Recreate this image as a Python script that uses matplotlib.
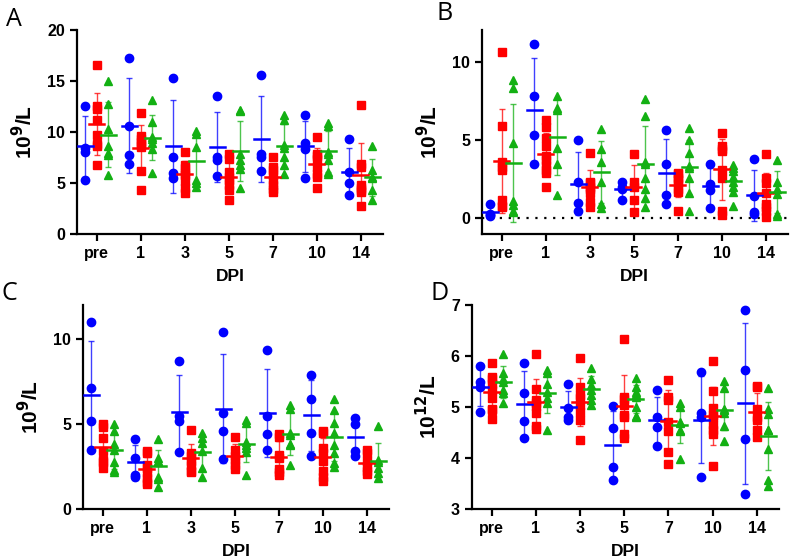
import numpy as np
import matplotlib
matplotlib.use("Agg")
import matplotlib.pyplot as plt

dpi_labels = ["pre", "1", "3", "5", "7", "10", "14"]

# ---- panel A (10^9/L) ----
a_blue = [[12.6, 8.4, 8.1, 5.3], [17.3, 10.6, 7.8, 6.9], [15.3, 7.6, 6.0, 5.5],
          [13.5, 7.6, 7.3, 5.7], [15.6, 7.9, 7.6, 6.2], [11.7, 8.9, 8.3, 5.5],
          [9.3, 6.1, 5.0, 3.8]]
a_red = [[16.6, 12.6, 12.3, 11.2, 9.7, 8.8, 8.6, 6.8],
         [11.9, 9.6, 9.3, 9.0, 8.7, 8.5, 6.2, 4.3],
         [8.1, 6.8, 6.5, 6.0, 5.8, 5.2, 4.5, 4.0],
         [7.9, 7.4, 6.1, 5.6, 5.3, 4.8, 4.3, 3.3],
         [7.6, 6.6, 6.3, 5.8, 5.3, 4.8, 4.4, 4.1],
         [9.5, 7.9, 7.7, 7.4, 6.6, 5.9, 5.6, 4.5],
         [12.7, 6.9, 6.6, 4.8, 4.5, 4.3, 4.1, 2.8]]
a_green = [[15.0, 12.8, 10.3, 8.0, 7.8, 5.8, 8.6],
           [13.2, 11.0, 9.5, 9.3, 8.9, 8.3, 6.0],
           [10.1, 9.8, 8.5, 5.3, 5.0, 4.6],
           [12.2, 12.1, 7.9, 7.3, 6.8, 6.4, 4.5],
           [11.7, 11.2, 8.7, 8.4, 7.6, 6.8, 5.9],
           [10.9, 10.6, 8.1, 7.9, 7.3, 6.1, 5.9],
           [8.6, 6.3, 5.6, 5.5, 4.3, 3.3]]

# ---- panel B (10^9/L) ----
b_blue = [[0.9, 0.3, 0.2, 0.15], [11.1, 7.8, 5.3, 3.5], [5.0, 2.35, 1.0, 0.5],
          [2.3, 2.0, 1.9, 1.2], [5.65, 3.5, 1.5, 0.95], [3.5, 2.2, 1.8, 0.65],
          [3.8, 1.45, 0.4, 0.25]]
b_red = [[10.6, 5.9, 3.6, 3.3, 3.1, 1.2, 0.8, 0.75],
         [6.3, 5.8, 5.1, 4.6, 4.0, 3.7, 3.4, 3.1, 2.9, 2.0],
         [4.2, 2.35, 2.25, 2.0, 1.9, 1.65, 1.07, 0.7],
         [4.1, 2.35, 2.0, 1.2, 0.4],
         [2.9, 2.8, 2.6, 2.45, 2.25, 1.9, 1.7, 0.5],
         [5.45, 4.6, 4.4, 4.3, 3.1, 2.55, 0.5, 0.2],
         [4.1, 2.55, 2.25, 1.65, 0.95, 0.7, 0.5, 0.1]]
b_green = [[8.8, 8.3, 4.8, 1.1, 0.85, 0.5, 0.4],
           [7.8, 7.05, 6.9, 4.5, 3.5, 1.5],
           [5.7, 4.4, 3.6, 2.35, 0.95, 0.65],
           [7.6, 6.55, 3.6, 3.5, 2.55, 1.9, 1.3, 0.75],
           [5.75, 5.0, 4.15, 3.35, 3.2, 2.55, 1.65, 0.5],
           [3.4, 3.2, 3.0, 2.65, 2.3, 2.0, 1.7, 0.8],
           [3.75, 2.35, 1.9, 1.55, 0.3, 0.15]]

# ---- panel C (10^9/L) ----
c_blue = [[11.0, 7.1, 5.2, 3.5], [4.1, 3.0, 2.0, 1.9], [8.7, 5.5, 5.2, 3.35],
          [10.45, 5.65, 4.6, 2.95], [9.35, 5.5, 4.4, 3.45], [7.9, 6.5, 4.5, 3.15],
          [5.35, 5.0, 3.4, 3.1]]
c_red = [[5.0, 4.85, 4.2, 3.4, 2.9, 2.75, 2.4],
         [3.4, 3.3, 2.6, 2.4, 2.1, 1.8, 1.6, 1.5],
         [4.65, 3.3, 3.15, 2.85, 2.6, 2.25, 2.2],
         [4.25, 3.5, 3.1, 2.9, 2.6, 2.35],
         [4.4, 4.25, 3.2, 3.0, 2.35, 2.2, 2.0],
         [4.6, 4.5, 3.6, 3.3, 2.8, 2.25, 1.9, 1.65],
         [3.5, 3.3, 2.8, 2.5, 2.25, 2.05]]
c_green = [[5.0, 4.6, 3.85, 3.45, 2.75, 2.2, 2.3],
           [4.1, 3.0, 2.8, 2.75, 1.9, 1.75, 1.3],
           [4.5, 4.2, 3.9, 3.4, 2.4, 1.9],
           [5.25, 5.05, 3.95, 3.75, 3.6, 3.35, 2.0],
           [6.15, 5.9, 4.5, 4.35, 3.85, 3.75, 2.6],
           [6.45, 5.85, 5.05, 4.45, 3.75, 3.3, 2.7, 2.5],
           [4.9, 2.9, 2.75, 2.4, 2.1, 1.8]]

# ---- panel D (10^12/L) ----
d_blue = [[5.8, 5.5, 5.39, 4.91], [5.87, 5.27, 4.73, 4.39], [5.46, 4.99, 4.81, 4.75],
          [5.03, 4.59, 3.83, 3.57], [5.33, 4.81, 4.61, 4.24], [5.69, 4.89, 4.81, 3.63],
          [6.9, 5.73, 4.37, 3.29]]
d_red = [[5.87, 5.6, 5.55, 5.46, 5.33, 5.17, 4.97, 4.94, 4.76],
         [6.04, 5.35, 5.14, 5.09, 5.02, 4.88, 4.63, 4.58],
         [5.97, 5.39, 5.24, 5.17, 5.04, 4.91, 4.75, 4.35],
         [6.33, 5.2, 5.15, 5.04, 4.84, 4.81, 4.48, 4.39],
         [5.54, 5.19, 5.14, 4.71, 4.53, 4.12, 3.88],
         [5.91, 5.31, 4.99, 4.84, 4.81, 4.65, 4.55, 4.48, 3.85],
         [5.41, 5.39, 4.97, 4.8, 4.75, 4.55, 4.42]]
d_green = [[6.05, 5.66, 5.56, 5.5, 5.33, 5.27, 5.09],
           [5.73, 5.66, 5.46, 5.3, 5.17, 5.08, 4.55],
           [5.76, 5.56, 5.43, 5.33, 5.24, 5.14, 5.04],
           [5.58, 5.4, 5.3, 5.25, 5.19, 5.0, 4.82, 4.8],
           [5.08, 5.0, 4.71, 4.68, 4.55, 4.54, 3.98],
           [5.52, 5.37, 4.97, 4.94, 4.89, 4.63, 4.34],
           [5.37, 4.97, 4.86, 4.55, 4.55, 4.17, 3.57, 3.46]]

BLUE = "#0000ff"
RED = "#ff0000"
GREEN = "#13b013"

plt.rcParams["font.family"] = ["Liberation Sans", "DejaVu Sans"]
fig = plt.figure(figsize=(7.9, 5.6), dpi=100)


def panel(rect, groups, ylim, yticks, ylabel, letter, letter_xy, zero_line=False):
    ax = fig.add_axes(rect)
    xs = np.arange(len(dpi_labels))
    for (vals, color, marker, off) in zip(groups, [BLUE, RED, GREEN], ["o", "s", "^"], [-0.26, 0.0, 0.26]):
        for i, v in enumerate(vals):
            v = np.array(v)
            x = xs[i] + off
            ax.plot(np.full(len(v), x), v, ls="none", marker=marker, ms=6.0,
                    color=color, mec=color, zorder=3)
            m = v.mean()
            sd = v.std(ddof=1)
            ax.errorbar(x, m, yerr=sd, fmt="none", ecolor=color, elinewidth=1.0,
                        capsize=2.5, capthick=1.0, alpha=0.75, zorder=2)
            ax.plot([x - 0.17, x + 0.17], [m, m], color=color, lw=1.8, zorder=4)
    if zero_line:
        ax.axhline(0, color="black", ls=(0, (1, 3)), lw=1.6, zorder=1)
    ax.set_xlim(-0.45, 6.5)
    ax.set_ylim(*ylim)
    ax.set_yticks(yticks)
    ax.set_xticks(xs)
    ax.set_xticklabels(dpi_labels)
    for s in ["top", "right"]:
        ax.spines[s].set_visible(False)
    for s in ["left", "bottom"]:
        ax.spines[s].set_linewidth(1.6)
    ax.tick_params(width=1.6, length=5, labelsize=11.5)
    for t in ax.get_xticklabels() + ax.get_yticklabels():
        t.set_fontweight("bold")
    ax.set_xlabel("DPI", fontsize=12.5, fontweight="bold", labelpad=6)
    ax.set_ylabel(ylabel, fontsize=15, fontweight="bold", labelpad=8)
    fig.text(letter_xy[0], letter_xy[1], letter, fontsize=18, family="Open Sans",
             ha="center", va="center")
    return ax


panel([0.0975, 0.582, 0.387, 0.364], [a_blue, a_red, a_green], (0, 20), [0, 5, 10, 15, 20],
      r"10$^{\mathbf{9}}$/L", "A", (0.017, 0.965))
panel([0.610, 0.582, 0.387, 0.364], [b_blue, b_red, b_green], (-1, 12), [0, 5, 10],
      r"10$^{\mathbf{9}}$/L", "B", (0.563, 0.975), zero_line=True)
panel([0.105, 0.091, 0.387, 0.364], [c_blue, c_red, c_green], (0, 12), [0, 5, 10],
      r"10$^{\mathbf{9}}$/L", "C", (0.012, 0.475))
panel([0.597, 0.091, 0.389, 0.364], [d_blue, d_red, d_green], (3, 7), [3, 4, 5, 6, 7],
      r"10$^{\mathbf{12}}$/L", "D", (0.557, 0.475))

fig.savefig("out.png", dpi=100)
